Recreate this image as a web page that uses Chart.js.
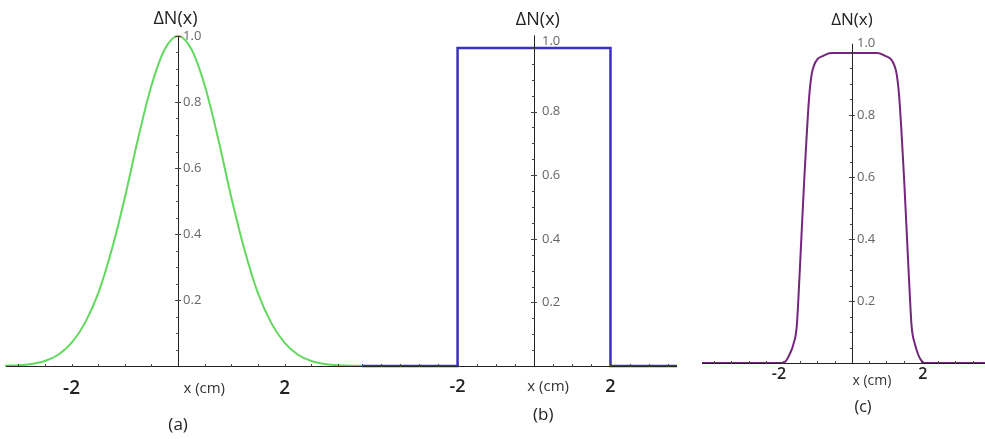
<!DOCTYPE html>
<html><head><meta charset="utf-8">
<script src="https://cdn.jsdelivr.net/npm/chart.js@4"></script>
<style>
html,body{margin:0;padding:0;background:#fff;width:985px;height:439px;overflow:hidden;}
.p{position:absolute;top:0;height:439px;}
</style></head><body>
<div class="p" style="left:0;width:370px"><canvas id="ca" width="370" height="439"></canvas></div>
<div class="p" style="left:360px;width:330px"><canvas id="cb" width="330" height="439"></canvas></div>
<div class="p" style="left:690px;width:295px"><canvas id="cc" width="295" height="439"></canvas></div>
<script>
// ---- data ----
const gaussX = [-3.25,-3.0,-2.75,-2.5,-2.25,-2.0,-1.75,-1.5,-1.25,-1.0,-0.75,-0.5,-0.25,0,0.25,0.5,0.75,1.0,1.25,1.5,1.75,2.0,2.25,2.5,2.75,3.0,3.25,3.5];
const gaussY = [0.001,0.002,0.006,0.015,0.034,0.07,0.13,0.22,0.35,0.51,0.69,0.85,0.96,1.0,0.96,0.85,0.69,0.51,0.35,0.22,0.13,0.07,0.034,0.015,0.006,0.002,0.001,0.0003];

const rectX = [-4.5,-2.0,-2.0,2.0,2.0,3.74];
const rectY = [0,0,1.0,1.0,0,0];

const superX = [-4.35,-2.05,-1.95,-1.88,-1.8,-1.7,-1.6,-1.53,-1.46,-1.38,-1.31,-1.24,-1.17,-1.1,-1.0,-0.85,-0.6,0,0.73,0.98,1.13,1.23,1.30,1.37,1.44,1.51,1.59,1.66,1.73,1.83,1.93,2.0,2.1,3.86];
const superY = [0,0,0.003,0.012,0.03,0.06,0.12,0.26,0.42,0.6,0.74,0.86,0.93,0.96,0.98,0.99,1.0,1.0,1.0,0.99,0.98,0.96,0.93,0.86,0.74,0.6,0.42,0.26,0.12,0.06,0.025,0.01,0,0];

const yTickValues = [0.2,0.4,0.6,0.8,1.0];
const yTickLabels = ['0.2','0.4','0.6','0.8','1.0'];
const xTickValues = [-2,2];
const xTickLabels = ['-2','2'];
const yAxisTitle = 'ΔN(x)';
const xAxisTitle = 'x (cm)';
const panelLabels = ['(a)','(b)','(c)'];

function pts(xs, ys){ return xs.map((x,i)=>({x:x,y:ys[i]})); }

const FONT = '"Open Sans", "DejaVu Sans", sans-serif';

function axesPlugin(cfg){
  return {
    id:'centerAxes',
    afterDatasetsDraw(chart){
      const ctx = chart.ctx, xs = chart.scales.x, ys = chart.scales.y;
      const x0 = xs.getPixelForValue(0), y0 = ys.getPixelForValue(0);
      ctx.save();
      ctx.strokeStyle = '#222'; ctx.lineWidth = 1;
      // x axis
      ctx.beginPath(); ctx.moveTo(xs.left, y0+0.5); ctx.lineTo(xs.right, y0+0.5); ctx.stroke();
      // y axis
      ctx.beginPath(); ctx.moveTo(Math.round(x0)+0.5, y0); ctx.lineTo(Math.round(x0)+0.5, ys.getPixelForValue(cfg.yTop)); ctx.stroke();
      // y minor ticks
      ctx.strokeStyle = '#444';
      for(let v=0.05; v<=1.001; v+=0.05){
        const py = Math.round(ys.getPixelForValue(v))+0.5;
        const major = Math.abs(v*5-Math.round(v*5))<1e-6;
        ctx.beginPath(); ctx.moveTo(x0-(major?3:2), py); ctx.lineTo(x0+(major?3:1), py); ctx.stroke();
      }
      // x ticks every 0.5
      const xmin = Math.ceil(xs.min*2)/2;
      for(let v=xmin; v<=xs.max; v+=0.5){
        if(Math.abs(v)<1e-6) continue;
        const px = Math.round(xs.getPixelForValue(v))+0.5;
        ctx.beginPath(); ctx.moveTo(px, y0-2); ctx.lineTo(px, y0+1); ctx.stroke();
      }
      // y tick labels
      ctx.fillStyle = '#666'; ctx.font = cfg.yFont+'px '+FONT;
      ctx.textAlign='left'; ctx.textBaseline='middle';
      yTickValues.forEach((v,i)=>{
        ctx.fillText(yTickLabels[i], x0+cfg.yLabOff, ys.getPixelForValue(v)+ (v===1.0?cfg.topLabShift:0));
      });
      // x tick labels
      ctx.fillStyle = '#222'; ctx.font = '600 '+cfg.xFont+'px '+FONT;
      ctx.textAlign='center';
      xTickValues.forEach((v,i)=>{
        ctx.fillText(xTickLabels[i], xs.getPixelForValue(v)+(v<0?cfg.negShift:cfg.posShift), cfg.xLabY);
      });
      // axis titles
      ctx.font = cfg.xtFont+'px '+FONT; ctx.fillStyle='#333';
      ctx.fillText(xAxisTitle, xs.getPixelForValue(cfg.xtX), cfg.xtY);
      ctx.font = cfg.ytFont+'px '+FONT; ctx.fillStyle='#222';
      ctx.fillText(yAxisTitle, xs.getPixelForValue(cfg.ytX), cfg.ytY);
      ctx.font = cfg.pFont+'px '+FONT; ctx.fillStyle='#222';
      ctx.fillText(panelLabels[cfg.idx], xs.getPixelForValue(cfg.pX), cfg.pY);
      ctx.restore();
    }
  };
}

function makePanel(id, xs, ys, color, width, cfg){
  new Chart(document.getElementById(id), {
    type:'line',
    data:{datasets:[{data:pts(xs,ys), borderColor:color, borderWidth:width, pointRadius:0,
      fill:false, tension:0, cubicInterpolationMode: cfg.mono?'monotone':'default', stepped:false}]},
    options:{
      responsive:false, animation:false, devicePixelRatio:1,
      layout:{padding:cfg.pad},
      plugins:{legend:{display:false}, tooltip:{enabled:false}},
      scales:{
        x:{type:'linear', min:cfg.xmin, max:cfg.xmax, display:false},
        y:{type:'linear', min:0, max:1, display:false}
      },
      clip:false
    },
    plugins:[axesPlugin(cfg)]
  });
}

makePanel('ca', gaussX, gaussY, '#62d95e', 2, {
  idx:0, mono:true, pad:{left:6,right:7,top:36,bottom:73}, xmin:-3.23, xmax:3.47, yTop:1.0,
  yFont:13, yLabOff:5, topLabShift:0, xFont:19, xLabY:389, negShift:0, posShift:0,
  xtFont:15, xtX:0.49, xtY:389, ytFont:18, ytX:-0.05, ytY:19, pFont:17, pX:0, pY:425
});
makePanel('cb', rectX, rectY, '#3a2fc8', 2.5, {
  idx:1, mono:false, pad:{left:2,right:13,top:48,bottom:73}, xmin:-4.5, xmax:3.74, yTop:1.04,
  yFont:13, yLabOff:8, topLabShift:-7, xFont:18, xLabY:387, negShift:0, posShift:0,
  xtFont:15, xtX:0.37, xtY:387, ytFont:18, ytX:0.1, ytY:20, pFont:17, pX:0.24, pY:415
});
makePanel('cc', superX, superY, '#74267c', 2, {
  idx:2, mono:true, pad:{left:12,right:0,top:53,bottom:76}, xmin:-4.35, xmax:3.86, yTop:1.03,
  yFont:13, yLabOff:5, topLabShift:-10, xFont:16, xLabY:374, negShift:-4, posShift:2,
  xtFont:14, xtX:0.58, xtY:381, ytFont:17, ytX:0, ytY:20, pFont:16, pX:0.32, pY:407
});
</script>
</body></html>
